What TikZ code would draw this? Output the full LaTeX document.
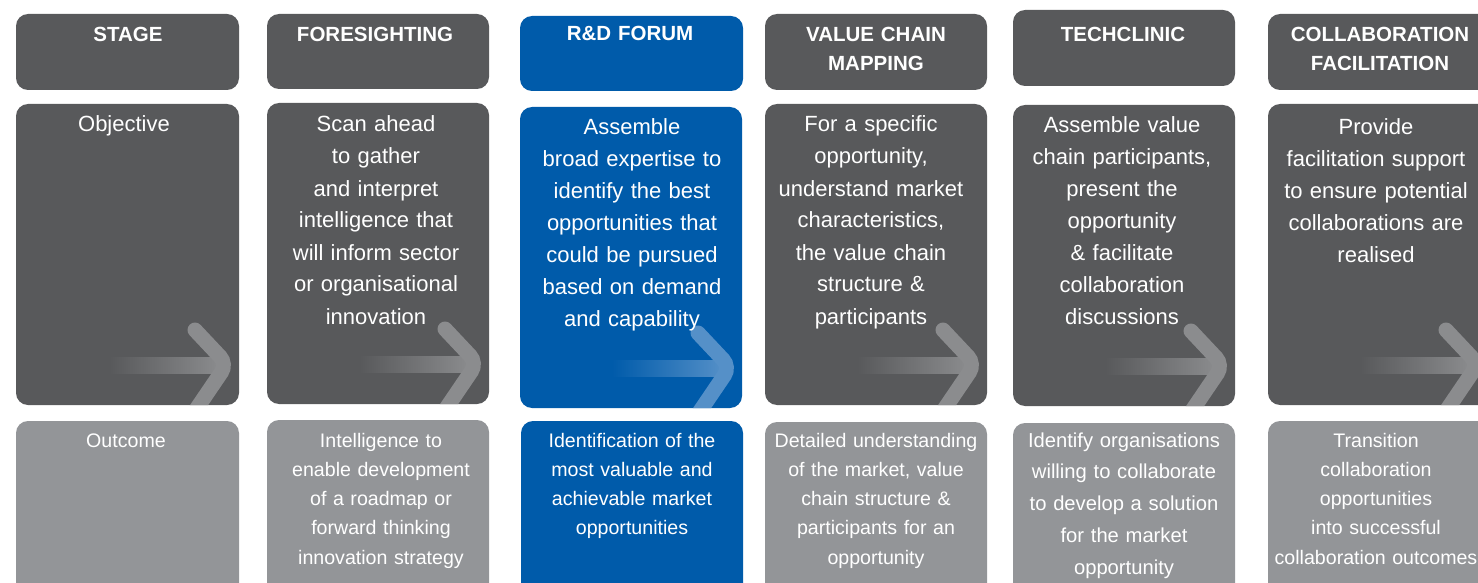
\documentclass[tikz,border=0pt]{standalone}
\usepackage{fontspec}
\setmainfont{Liberation Sans}
\definecolor{dg}{HTML}{58595B}
\definecolor{lg}{HTML}{939598}
\definecolor{bl}{HTML}{005BAA}
\definecolor{ag}{HTML}{8B8C8E}
\definecolor{ab}{HTML}{5590C8}
\tikzset{
  box/.style={rounded corners=12pt, inner sep=0pt, draw=none},
  hd/.style={font=\bfseries\fontsize{20.5}{29}\selectfont, text=white, align=center, text width=222pt, inner sep=0pt, anchor=base},
  ob/.style={font=\fontsize{22}{32}\selectfont, text=white, align=center, text width=222pt, inner sep=0pt, anchor=base},
  oc/.style={font=\fontsize{19.6}{29.3}\selectfont, text=white, align=center, text width=222pt, inner sep=0pt, anchor=base},
  ocw/.style={font=\fontsize{20.2}{31.8}\selectfont, text=white, align=center, text width=222pt, inner sep=0pt, anchor=base}
}
% name, colour, x1, y1, x2, y2
\newcommand\mybox[6]{\node[box, fill=#2, minimum width={#5-#3}, minimum height={#6-#4}] (#1) at ({(#3+#5)/2},{(#4+#6)/2}) {};}
% name, box colour, arrow colour, x1, y1, x2, y2
\newcommand\myobj[7]{%
  \mybox{#1}{#2}{#4}{#5}{#6}{#7}
  \begin{scope}
    \clip[rounded corners=12pt] (#4,#5) rectangle (#6,#7);
    \shade[left color=#2, right color=#3] (#6-130,#7-48) rectangle (#6-18,#7-32);
    \draw[#3, line width=15pt, line cap=round, rounded corners=10pt] (#6-44,#7-75) -- (#6-12,#7-41) -- (#6-48,#7+12);
  \end{scope}}
\begin{document}
\begin{tikzpicture}[x=1pt, y=-1pt]
\useasboundingbox (0,0) rectangle (1478,583);
\fill[white] (0,0) rectangle (1478,583);
\clip (0,0) rectangle (1478,583);
% header row
\mybox{h1}{dg}{16}{14}{239}{90}
\mybox{h2}{dg}{267}{14}{489}{89}
\mybox{h3}{bl}{520}{16}{743}{91}
\mybox{h4}{dg}{765}{14}{987}{90}
\mybox{h5}{dg}{1013}{10}{1235}{86}
\mybox{h6}{dg}{1268}{14}{1490}{90}
\node[hd] (h1t) at (128,42) {STAGE};
\node[hd] (h2t) at (375,42) {FORESIGHTING};
\node[hd] (h3t) at (630,41) {R\&D FORUM};
\node[hd] (h4t) at (876,42) {VALUE CHAIN\\MAPPING};
\node[hd] (h5t) at (1123,42) {TECHCLINIC};
\node[hd] (h6t) at (1380,42) {COLLABORATION\\FACILITATION};
% objective row
\myobj{o1}{dg}{ag}{16}{104}{239}{405}
\myobj{o2}{dg}{ag}{267}{103}{489}{404}
\myobj{o3}{bl}{ab}{520}{107}{742}{408}
\myobj{o4}{dg}{ag}{765}{104}{987}{405}
\myobj{o5}{dg}{ag}{1013}{105}{1235}{406}
\myobj{o6}{dg}{ag}{1268}{104}{1490}{405}
\node[ob] (o1t) at (124,132) {Objective};
\node[ob] (o2t) at (376,132) {Scan ahead\\to gather\\and interpret\\intelligence that\\will inform sector\\or organisational\\innovation};
\node[ob] (o3t) at (632,135) {Assemble\\broad expertise to\\identify the best\\opportunities that\\could be pursued\\based on demand\\and capability};
\node[ob] (o4t) at (871,132) {For a specific\\opportunity,\\understand market\\characteristics,\\the value chain\\structure \&\\participants};
\node[ob] (o5t) at (1122,133) {Assemble value\\chain participants,\\present the\\opportunity\\\& facilitate\\collaboration\\discussions};
\node[ob] (o6t) at (1376,135) {Provide\\facilitation support\\to ensure potential\\collaborations are\\realised};
% outcome row
\mybox{u1}{lg}{16}{421}{239}{610}
\mybox{u2}{lg}{267}{420}{489}{610}
\mybox{u3}{bl}{521}{421}{743}{610}
\mybox{u4}{lg}{765}{422}{987}{610}
\mybox{u5}{lg}{1013}{423}{1235}{610}
\mybox{u6}{lg}{1268}{421}{1490}{610}
\node[oc] (u1t) at (126,447) {Outcome};
\node[oc] (u2t) at (381,447) {Intelligence to\\enable development\\of a roadmap or\\forward thinking\\innovation strategy};
\node[oc] (u3t) at (632,447) {Identification of the\\most valuable and\\achievable market\\opportunities};
\node[oc] (u4t) at (876,447) {Detailed understanding\\of the market, value\\chain structure \&\\participants for an\\opportunity};
\node[ocw] (u5t) at (1124,447) {Identify organisations\\willing to collaborate\\to develop a solution\\for the market\\opportunity};
\node[oc] (u6t) at (1376,447) {Transition\\collaboration\\opportunities\\into successful\\collaboration outcomes};
\end{tikzpicture}
\end{document}
